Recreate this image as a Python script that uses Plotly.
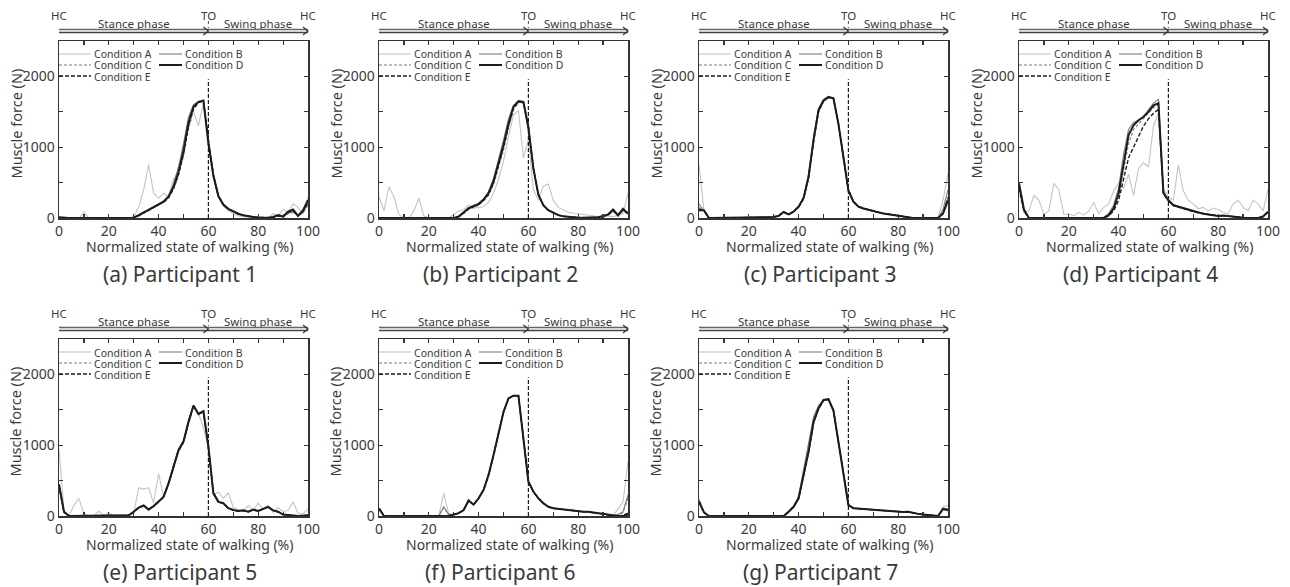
import plotly.graph_objects as go

# ---------------- data ----------------
X = list(range(0, 101, 2))          # normalized state of walking (%)
TO = 60                               # toe-off (%)
CONDITIONS = ["Condition A", "Condition B", "Condition C", "Condition D", "Condition E"]
CAPTIONS = ["(a) Participant 1", "(b) Participant 2", "(c) Participant 3", "(d) Participant 4",
            "(e) Participant 5", "(f) Participant 6", "(g) Participant 7"]
X_TICKS = [0, 10, 20, 30, 40, 50, 60, 70, 80, 90, 100]
X_TICKTEXT = ["0", "", "20", "", "40", "", "60", "", "80", "", "100"]
Y_TICKS = [0, 500, 1000, 1500, 2000]
Y_TICKTEXT = ["0", "", "1000", "", "2000"]

# Participant 1
P1_A = [0,0,0,0,0,80,0,0,0,0,0,0,0,0,0,20,150,400,750,350,280,350,300,550,650,950,1350,1500,1300,1620,1100,550,300,170,100,60,30,20,10,5,5,10,0,60,30,120,80,200,150,60,300]
P1_B = [5,0,0,0,0,0,0,0,0,0,0,0,0,0,0,5,30,70,100,140,185,240,320,480,720,1050,1420,1600,1640,1650,1080,580,300,180,120,85,55,35,20,12,6,5,5,10,30,20,70,90,40,80,200]
P1_C = [5,0,0,0,0,0,0,0,0,0,0,0,0,0,0,5,30,70,100,140,180,220,280,400,600,880,1250,1520,1630,1660,1120,620,320,190,130,90,60,40,25,15,8,5,5,10,25,15,60,80,30,70,180]
P1_D = [10,0,0,0,0,0,0,0,0,0,0,0,0,0,0,5,40,80,110,150,190,230,300,440,650,950,1350,1570,1640,1660,1050,600,310,190,130,90,60,40,25,15,8,5,5,15,40,20,90,120,30,110,250]
P1_E = [5,0,0,0,0,0,0,0,0,0,0,0,0,0,0,5,35,75,105,145,185,225,290,420,620,900,1300,1550,1630,1650,1100,610,315,190,130,90,60,40,25,15,8,5,5,10,30,20,80,100,30,90,220]

# Participant 2
P2_A = [300,100,440,300,50,0,0,100,280,30,0,0,0,0,0,50,100,120,180,140,150,160,220,350,550,800,1150,1450,1520,850,1100,400,250,450,480,250,150,110,80,70,60,40,40,20,20,10,30,20,40,60,350]
P2_B = [5,0,0,0,0,0,0,0,0,0,0,0,0,0,0,0,15,70,130,160,200,270,370,560,820,1100,1400,1590,1640,1620,1240,680,320,175,110,70,40,25,15,10,5,5,5,10,10,25,40,100,30,110,80]
P2_C = [0,0,0,0,0,0,0,0,0,0,0,0,0,0,0,0,15,60,120,150,180,240,320,470,700,960,1270,1530,1630,1640,1300,720,340,185,115,70,40,25,15,10,5,5,5,10,10,20,40,90,30,100,60]
P2_D = [0,0,0,0,0,0,0,0,0,0,0,0,0,0,0,0,20,80,140,170,200,260,350,520,770,1030,1330,1570,1650,1640,1280,700,330,180,110,70,40,25,15,10,5,5,5,10,10,30,50,120,40,130,60]
P2_E = [0,0,0,0,0,0,0,0,0,0,0,0,0,0,0,0,18,70,130,160,190,250,335,500,740,1000,1300,1550,1640,1640,1290,710,335,180,110,70,40,25,15,10,5,5,5,10,10,25,45,110,35,120,60]

# Participant 3
P3_A = [750,100,0,0,0,0,0,0,0,0,0,0,0,5,10,15,30,90,50,90,160,290,600,1120,1540,1670,1700,1680,1320,840,380,230,160,130,110,90,80,65,55,40,30,15,5,0,0,0,0,0,0,250,630]
P3_B = [200,100,0,0,0,0,0,0,0,0,0,0,0,5,10,15,30,80,55,95,170,300,620,1150,1550,1670,1710,1680,1320,850,380,225,160,130,110,90,80,65,55,40,30,15,5,0,0,0,0,0,0,120,400]
P3_C = [150,100,0,0,0,0,0,0,0,0,0,0,0,5,10,15,30,80,50,90,150,270,550,1060,1490,1640,1700,1690,1340,870,400,240,170,140,120,95,80,65,55,40,30,15,5,0,0,0,0,0,0,80,300]
P3_D = [110,110,0,0,0,0,0,0,0,0,0,0,0,5,10,15,30,85,50,90,160,280,580,1100,1520,1660,1710,1690,1330,860,390,230,160,135,115,90,80,65,55,40,30,15,5,0,0,0,0,0,0,60,250]
P3_E = [130,100,0,0,0,0,0,0,0,0,0,0,0,5,10,15,30,85,50,90,155,275,570,1080,1510,1650,1705,1690,1335,865,395,235,165,140,118,92,80,65,55,40,30,15,5,0,0,0,0,0,0,70,280]

# Participant 4
P4_A = [450,80,100,320,250,50,100,490,400,50,60,30,80,40,100,220,60,150,200,380,500,420,620,320,700,780,720,1300,1480,400,300,250,750,380,250,200,130,150,100,140,120,80,60,200,250,150,100,250,200,100,400]
P4_B = [450,100,0,0,0,0,0,0,0,0,0,0,0,0,0,0,0,10,60,180,420,900,1250,1350,1380,1420,1530,1620,1680,380,260,190,165,140,115,95,78,62,52,42,32,35,25,15,10,5,0,0,0,20,80]
P4_C = [400,80,0,0,0,0,0,0,0,0,0,0,0,0,0,0,0,0,40,120,320,680,1050,1250,1330,1400,1480,1560,1600,360,250,180,160,135,110,90,75,60,50,40,30,35,25,15,10,5,0,0,0,20,90]
P4_D = [490,120,0,0,0,0,0,0,0,0,0,0,0,0,0,0,0,0,40,135,350,770,1170,1310,1380,1430,1500,1590,1620,350,250,180,160,135,110,90,75,60,50,40,30,35,25,15,10,5,0,0,0,20,90]
P4_E = [420,100,0,0,0,0,0,0,0,0,0,0,0,0,0,0,0,0,30,100,250,550,850,1000,1150,1300,1400,1480,1530,340,240,175,155,130,108,88,73,60,50,40,30,33,25,15,10,5,0,0,0,20,85]

# Participant 5
P5_A = [950,80,0,150,250,30,0,0,70,0,50,0,0,0,0,40,400,380,400,180,600,280,470,700,920,1060,1320,1540,1450,1250,950,300,340,250,330,120,90,60,150,80,180,100,150,50,120,60,80,200,40,30,100]
P5_B = [420,50,0,0,0,0,0,0,0,0,0,0,0,0,10,55,115,145,95,135,195,280,480,720,950,1070,1340,1560,1440,1460,960,330,205,175,110,85,70,75,60,85,70,95,120,75,55,20,10,0,0,5,10]
P5_C = [400,50,0,0,0,0,0,0,0,0,0,0,0,0,10,55,110,140,90,130,190,260,440,680,910,1030,1310,1550,1450,1490,1000,340,210,180,115,85,70,80,60,90,70,100,125,80,60,20,10,0,0,5,10]
P5_D = [450,60,0,0,0,0,0,0,0,0,0,0,0,0,10,60,120,150,90,140,200,270,460,700,930,1050,1330,1560,1440,1480,980,320,200,180,110,85,70,80,60,90,70,100,130,80,60,20,10,0,0,5,10]
P5_E = [430,55,0,0,0,0,0,0,0,0,0,0,0,0,10,58,118,148,92,138,198,268,455,695,925,1045,1325,1555,1445,1475,985,325,202,178,110,85,70,78,60,88,70,98,128,78,58,20,10,0,0,5,10]

# Participant 6
P6_A = [100,0,0,0,0,0,0,0,0,0,0,0,0,320,30,20,40,85,220,160,250,370,580,860,1190,1470,1660,1700,1700,1050,485,345,250,180,130,110,100,90,85,80,70,60,60,50,30,20,10,5,100,200,770]
P6_B = [90,0,0,0,0,0,0,0,0,0,0,0,0,130,20,20,40,85,215,160,250,370,585,870,1200,1480,1665,1700,1695,1040,480,340,250,180,130,110,100,90,85,80,70,60,60,50,30,20,10,5,20,60,300]
P6_C = [90,0,0,0,0,0,0,0,0,0,0,0,0,120,20,20,40,80,210,155,245,360,570,850,1180,1460,1655,1700,1700,1060,490,350,255,185,132,112,100,90,85,80,70,60,60,50,30,20,10,5,15,50,250]
P6_D = [110,0,0,0,0,0,0,0,0,0,0,0,0,0,0,20,40,85,220,160,250,370,580,860,1190,1470,1660,1700,1700,1050,485,345,250,180,130,110,100,90,85,80,70,60,60,50,30,20,10,5,0,0,20]
P6_E = [100,0,0,0,0,0,0,0,0,0,0,0,0,10,5,20,40,85,218,160,250,368,578,858,1188,1468,1660,1700,1700,1052,487,346,251,181,130,110,100,90,85,80,70,60,60,50,30,20,10,5,5,10,40]

# Participant 7
P7_A = [250,60,0,0,0,0,0,0,0,0,0,0,0,0,0,0,0,0,70,140,270,600,950,1370,1540,1630,1640,1480,1050,600,160,115,108,98,92,82,82,76,72,70,62,56,60,42,32,22,12,0,0,130,150]
P7_B = [220,50,0,0,0,0,0,0,0,0,0,0,0,0,0,0,0,0,65,135,280,640,1000,1400,1560,1640,1640,1480,1060,610,160,112,106,96,91,81,80,75,71,70,61,56,60,41,31,21,11,0,0,110,100]
P7_C = [200,50,0,0,0,0,0,0,0,0,0,0,0,0,0,0,0,0,55,125,245,560,880,1300,1500,1630,1650,1500,1060,610,158,110,105,95,90,80,80,75,70,70,60,55,60,40,30,20,10,0,0,100,90]
P7_D = [200,50,0,0,0,0,0,0,0,0,0,0,0,0,0,0,0,0,60,130,250,580,910,1330,1520,1640,1650,1490,1050,600,155,110,105,95,90,80,80,75,70,70,60,55,60,40,30,20,10,0,0,100,80]
P7_E = [210,50,0,0,0,0,0,0,0,0,0,0,0,0,0,0,0,0,58,128,248,575,900,1320,1515,1638,1650,1492,1052,602,156,110,105,95,90,80,80,75,70,70,60,55,60,40,30,20,10,0,0,100,85]

PANEL_SERIES = [
    [P1_A, P1_B, P1_C, P1_D, P1_E],
    [P2_A, P2_B, P2_C, P2_D, P2_E],
    [P3_A, P3_B, P3_C, P3_D, P3_E],
    [P4_A, P4_B, P4_C, P4_D, P4_E],
    [P5_A, P5_B, P5_C, P5_D, P5_E],
    [P6_A, P6_B, P6_C, P6_D, P6_E],
    [P7_A, P7_B, P7_C, P7_D, P7_E],
]
for grp in PANEL_SERIES:
    for s in grp:
        assert len(s) == len(X), len(s)

# ---------------- styling ----------------
W, H = 1290, 587
PW, PH = 249, 177
PANEL_POS = [(59, 41), (379, 41), (699, 41), (1019, 41), (59, 339), (379, 339), (699, 339)]
FONT = "Noto Sans"
TXT = "#3a3a3a"
AX = "#333333"

STYLES = {
    "Condition A": dict(color="#c4c4c4", width=1.1),
    "Condition B": dict(color="#7d7d7d", width=1.1),
    "Condition C": dict(color="#7d7d7d", width=1.1, dash="3px,2px"),
    "Condition D": dict(color="#1c1c1c", width=2.0),
    "Condition E": dict(color="#1c1c1c", width=1.4, dash="4px,2px"),
}
DRAW_ORDER = [0, 1, 2, 4, 3]


def fx(p):
    return p / W


def fy(p):
    return 1 - p / H


fig = go.Figure()
shapes = []
annotations = []
layout_axes = {}

for i, (left, top) in enumerate(PANEL_POS):
    n = "" if i == 0 else str(i + 1)
    xa, ya = "x" + n, "y" + n
    series = PANEL_SERIES[i]
    for k in DRAW_ORDER:
        fig.add_trace(go.Scatter(
            x=X, y=series[k], mode="lines", name=CONDITIONS[k],
            line=STYLES[CONDITIONS[k]], xaxis=xa, yaxis=ya,
            showlegend=False, hoverinfo="skip"))

    right, bottom = left + PW, top + PH
    layout_axes["xaxis" + n] = dict(
        domain=[fx(left), fx(right)], anchor=ya, range=[0, 100],
        tickvals=X_TICKS, ticktext=X_TICKTEXT, ticks="inside", ticklen=4,
        tickcolor=AX, tickwidth=1.2, showline=True, linecolor=AX, linewidth=1.5,
        mirror="allticks", showgrid=False, zeroline=False, automargin=False,
        tickfont=dict(family=FONT, size=14, color=TXT))
    layout_axes["yaxis" + n] = dict(
        domain=[fy(bottom), fy(top)], anchor=xa, range=[0, 2500],
        tickvals=Y_TICKS, ticktext=Y_TICKTEXT, ticks="inside", ticklen=4,
        tickcolor=AX, tickwidth=1.2, showline=True, linecolor=AX, linewidth=1.5,
        mirror="allticks", showgrid=False, zeroline=False, automargin=False,
        tickfont=dict(family=FONT, size=14, color=TXT))

    # toe-off dashed line inside the plot
    shapes.append(dict(type="line", xref=xa, yref=ya, x0=TO, x1=TO, y0=0, y1=1960,
                       line=dict(color="#1c1c1c", width=1.2, dash="4px,2px")))

    # legend (manual, two columns)
    rows = [13, 24, 35]
    entries = [(0, 0, 0), (1, 1, 0), (2, 0, 1), (3, 1, 1), (4, 0, 2)]
    for k, col, row in entries:
        y = top + rows[row]
        x0 = left + (0 if col == 0 else 100)
        x1 = x0 + (32 if col == 0 else 23)
        st = STYLES[CONDITIONS[k]]
        shapes.append(dict(type="line", xref="paper", yref="paper",
                           x0=fx(x0), x1=fx(x1), y0=fy(y), y1=fy(y),
                           line=dict(color=st["color"], width=st["width"],
                                     dash=st.get("dash", "solid"))))
        annotations.append(dict(x=fx(x1 + 1), y=fy(y), xref="paper", yref="paper",
                                text=CONDITIONS[k], showarrow=False, xanchor="left",
                                yanchor="middle", height=11, valign="middle",
                                font=dict(family=FONT, size=10.5, color=TXT)))

    # phase bar above the plot
    to_px = left + PW * TO / 100
    for dy, col in [(11.5, "#666666"), (8.5, "#444444")]:
        shapes.append(dict(type="line", xref="paper", yref="paper",
                           x0=fx(left), x1=fx(right), y0=fy(top - dy), y1=fy(top - dy),
                           line=dict(color=col, width=1.3)))
    for tip in (to_px, right):
        path = "M {} {} L {} {} L {} {}".format(
            fx(tip - 5), fy(top - 14), fx(tip), fy(top - 10), fx(tip - 5), fy(top - 6))
        shapes.append(dict(type="path", xref="paper", yref="paper", path=path,
                           line=dict(color="#333333", width=1.2)))
    shapes.append(dict(type="line", xref="paper", yref="paper",
                       x0=fx(to_px), x1=fx(to_px), y0=fy(top - 20), y1=fy(top - 13),
                       line=dict(color="#555555", width=1, dash="dot")))
    for txt, xp, yoff in [("HC", left, 26), ("TO", to_px, 26), ("HC", right, 26),
                          ("Stance phase", left + PW * 0.30, 18),
                          ("Swing phase", left + PW * 0.80, 18)]:
        annotations.append(dict(x=fx(xp), y=fy(top - yoff), xref="paper", yref="paper",
                                text=txt, showarrow=False, xanchor="center", yanchor="middle",
                                height=12, valign="middle",
                                font=dict(family=FONT, size=11.5, color=TXT)))

    # axis titles and caption
    cx = left + PW / 2
    annotations.append(dict(x=fx(cx + 6), y=fy(bottom + 28), xref="paper", yref="paper",
                            text="Normalized state of walking (%)", showarrow=False,
                            xanchor="center", yanchor="middle",
                            font=dict(family=FONT, size=14, color=TXT)))
    annotations.append(dict(x=fx(left - 44), y=fy((top + bottom) / 2 - 6), xref="paper",
                            yref="paper", text="Muscle force (N)", showarrow=False,
                            textangle=-90, xanchor="center", yanchor="middle",
                            font=dict(family=FONT, size=14.5, color=TXT)))
    annotations.append(dict(x=fx(cx - 3.5), y=fy(bottom + 56), xref="paper", yref="paper",
                            text=CAPTIONS[i], showarrow=False, xanchor="center",
                            yanchor="middle", font=dict(family=FONT, size=21, color=TXT)))

fig.update_layout(
    width=W, height=H, margin=dict(l=0, r=0, t=0, b=0, autoexpand=False),
    paper_bgcolor="white", plot_bgcolor="white", showlegend=False,
    shapes=shapes, annotations=annotations, **layout_axes)

fig.write_html(
    "out.html",
    config={"displayModeBar": False, "staticPlot": True},
    post_script="document.body.style.margin='0';document.body.style.overflow='hidden';")
